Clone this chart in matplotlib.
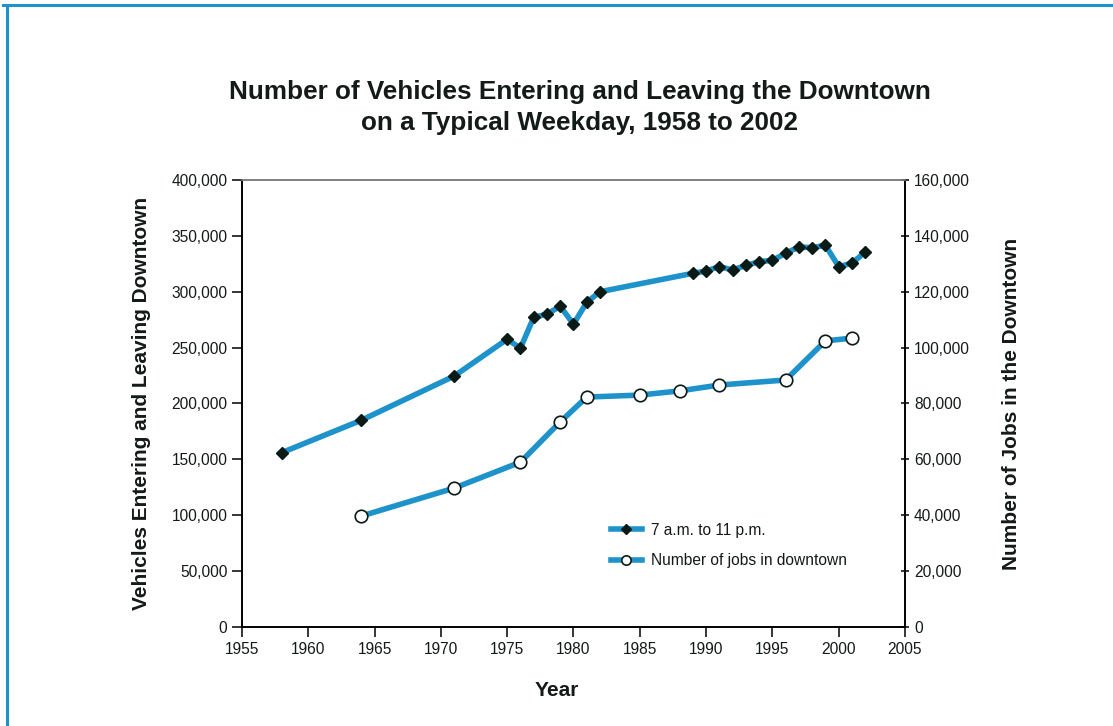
import matplotlib
matplotlib.use('Agg')
import matplotlib.pyplot as plt
from matplotlib.lines import Line2D
from matplotlib.ticker import FuncFormatter

plt.rcParams['font.family'] = ['Liberation Sans', 'DejaVu Sans']

# 차량 진출입 (왼쪽 축)
veh_years = [1958, 1964, 1971, 1975, 1976, 1977, 1978, 1979, 1980, 1981, 1982,
             1989, 1990, 1991, 1992, 1993, 1994, 1995, 1996, 1997, 1998, 1999,
             2000, 2001, 2002]
veh_values = [156000, 185000, 224500, 257500, 249500, 277000, 280000, 287000,
              271000, 290500, 300000, 316500, 318500, 322500, 319500, 323500,
              327000, 328000, 334500, 340000, 339500, 341500, 322500, 325500,
              335500]

# 다운타운 일자리 수 (오른쪽 축)
job_years = [1964, 1971, 1976, 1979, 1981, 1985, 1988, 1991, 1996, 1999, 2001]
job_values = [39700, 49700, 59000, 73400, 82300, 83000, 84500, 86600, 88400,
              102400, 103400]

blue = '#1e92cb'
txt = '#141a18'

fig = plt.figure(figsize=(11.13, 7.26), dpi=100)
ax = fig.add_axes([0.2174, 0.1364, 0.5957, 0.6157])
ax2 = ax.twinx()

ax.plot(veh_years, veh_values, color=blue, lw=4, marker='D', ms=6.5,
        mfc='#0a1a16', mec='#0a1a16', label='7 a.m. to 11 p.m.', zorder=3)
ax2.plot(job_years, job_values, color=blue, lw=4, marker='o', ms=9,
         mfc='white', mec='#0a1a16', mew=1.2, label='Number of jobs in downtown', zorder=3)

ax.set_xlim(1955, 2005)
ax.set_ylim(0, 400000)
ax2.set_ylim(0, 160000)
ax.set_xticks(range(1955, 2006, 5))
ax.set_yticks(range(0, 400001, 50000))
ax2.set_yticks(range(0, 160001, 20000))

fmt = FuncFormatter(lambda v, p: f'{int(v):,}')
ax.yaxis.set_major_formatter(fmt)
ax2.yaxis.set_major_formatter(fmt)

for a in (ax, ax2):
    for s in a.spines.values():
        s.set_linewidth(1.2)
    a.spines['top'].set_color('#808080')
ax.tick_params(axis='both', labelsize=11.2, colors='black', labelcolor=txt, length=7, width=1.1, direction='out')
ax.tick_params(axis='x', pad=4)
ax2.tick_params(axis='y', labelsize=11.2, colors='black', labelcolor=txt, length=6, width=1.1, direction='inout')

ax.set_ylabel('Vehicles Entering and Leaving Downtown', fontsize=15, fontweight='bold', color=txt, labelpad=15)
ax2.set_ylabel('Number of Jobs in the Downtown', fontsize=15, fontweight='bold', color=txt, labelpad=23)
fig.text(0.5005, 0.049, 'Year', ha='center', va='center', fontsize=15, fontweight='bold', color=txt)

fig.text(0.521, 0.852, 'Number of Vehicles Entering and Leaving the Downtown\non a Typical Weekday, 1958 to 2002',
         ha='center', va='center', fontsize=18.8, fontweight='bold', color=txt, linespacing=1.36)

h1, l1 = ax.get_legend_handles_labels()
h2, l2 = ax2.get_legend_handles_labels()
ax2.legend(h1 + h2, l1 + l2, loc='lower left', bbox_to_anchor=(0.535, 0.1), frameon=False,
           fontsize=11.2, handlelength=2.0, handletextpad=0.6, labelspacing=1.0,
           markerscale=0.75, labelcolor=txt)

# 바깥 파란 테두리
fig.add_artist(Line2D([0.003, 1.0], [0.993, 0.993], color=blue, lw=2.2, transform=fig.transFigure))
fig.add_artist(Line2D([0.0065, 0.0065], [0.0, 0.993], color=blue, lw=2.2, transform=fig.transFigure))

fig.savefig('out.png', dpi=100)
